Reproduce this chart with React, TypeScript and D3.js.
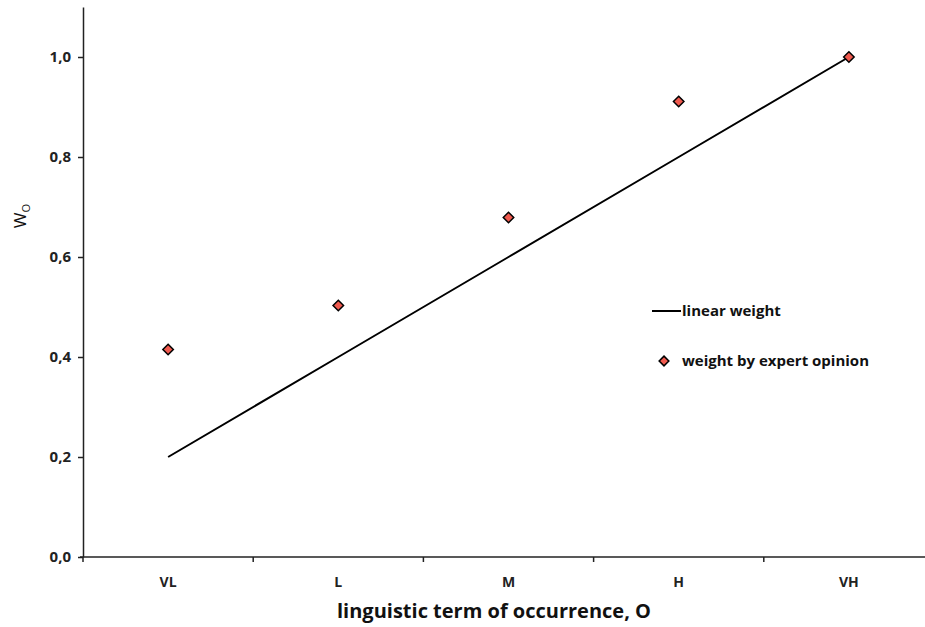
import { useEffect, useRef } from 'react';
import * as d3 from 'd3';

const categories = ['VL', 'L', 'M', 'H', 'VH'];
const linearWeight = [0.2, 0.4, 0.6, 0.8, 1.0];
const expertWeight = [0.415, 0.503, 0.679, 0.911, 1.0];
const yTicks = [0, 0.2, 0.4, 0.6, 0.8, 1.0];

const FONT = '"Open Sans", "DejaVu Sans", sans-serif';

export default function App() {
    const svgRef = useRef<SVGSVGElement>(null);

    useEffect(() => {
        if (!svgRef.current) return;
        document.body.style.margin = '0';
        const svg = d3.select(svgRef.current);
        svg.selectAll('*').remove();

        const width = 925;
        const height = 627;
        const left = 83;
        const bottom = 557;

        svg.attr('width', width).attr('height', height);
        svg.append('rect').attr('width', width).attr('height', height).attr('fill', '#fff');

        // Scales
        const x = d3.scaleBand<string>().domain(categories).range([left, left + 170.2 * 5]);
        const y = d3.scaleLinear().domain([0, 1.1]).range([bottom, 7]);
        const cx = (c: string) => (x(c) || 0) + x.bandwidth() / 2;

        // Y axis
        const yAxis = svg.append('g')
            .attr('transform', `translate(${left},0)`)
            .call(d3.axisLeft(y).tickValues(yTicks).tickSize(5).tickSizeOuter(0)
                .tickFormat(d => d3.format('.1f')(d as number).replace('.', ',')));
        yAxis.select('.domain').attr('stroke', '#222').attr('stroke-width', 1.5);
        yAxis.selectAll('line').attr('stroke', '#222').attr('stroke-width', 1.5);
        yAxis.selectAll('text')
            .attr('x', -12)
            .style('font-family', FONT)
            .style('font-size', '15px')
            .style('font-weight', '700')
            .style('fill', '#222');

        // X axis, ticks between categories
        const xAxis = svg.append('g').attr('transform', `translate(0,${bottom})`);
        xAxis.append('line')
            .attr('x1', left - 3).attr('x2', width)
            .attr('stroke', '#222').attr('stroke-width', 1.5);
        const boundaries = categories.map(c => x(c) || 0);
        xAxis.selectAll('.xtick')
            .data(boundaries)
            .enter()
            .append('line')
            .attr('x1', d => d).attr('x2', d => d)
            .attr('y1', 0).attr('y2', 5)
            .attr('stroke', '#222').attr('stroke-width', 1.5);
        xAxis.selectAll('.xlabel')
            .data(categories)
            .enter()
            .append('text')
            .attr('x', d => cx(d))
            .attr('y', 30)
            .attr('text-anchor', 'middle')
            .style('font-family', FONT)
            .style('font-size', '14px')
            .style('font-weight', '700')
            .style('fill', '#222')
            .text(d => d);

        // Axis titles
        svg.append('text')
            .attr('x', 494)
            .attr('y', 618)
            .attr('text-anchor', 'middle')
            .style('font-family', FONT)
            .style('font-size', '20px')
            .style('font-weight', '700')
            .style('fill', '#111')
            .text('linguistic term of occurrence, O');

        const yTitle = svg.append('text')
            .attr('transform', 'translate(26,216) rotate(-90)')
            .attr('text-anchor', 'middle')
            .style('font-family', FONT)
            .style('font-size', '17px')
            .style('fill', '#111');
        yTitle.append('tspan').text('W');
        yTitle.append('tspan').attr('dy', 4).style('font-size', '11px').text('O');

        // Linear weight line
        const line = d3.line<number>()
            .x((_, i) => cx(categories[i]))
            .y(d => y(d));
        svg.append('path')
            .datum(linearWeight)
            .attr('fill', 'none')
            .attr('stroke', '#000')
            .attr('stroke-width', 2)
            .attr('d', line);

        // Expert opinion markers
        const diamond = d3.symbol().type(d3.symbolDiamond2).size(70);
        svg.selectAll('.dot')
            .data(expertWeight)
            .enter()
            .append('path')
            .attr('d', diamond)
            .attr('transform', (d, i) => `translate(${cx(categories[i])},${y(d)})`)
            .attr('fill', '#f05a4f')
            .attr('stroke', '#000')
            .attr('stroke-width', 1.5);

        // Legend
        const legend = svg.append('g');
        legend.append('line')
            .attr('x1', 652).attr('x2', 681)
            .attr('y1', 311).attr('y2', 311)
            .attr('stroke', '#000').attr('stroke-width', 2);
        legend.append('text')
            .attr('x', 682).attr('y', 316)
            .style('font-family', FONT)
            .style('font-size', '15px')
            .style('font-weight', '700')
            .style('fill', '#111')
            .text('linear weight');
        legend.append('path')
            .attr('d', d3.symbol().type(d3.symbolDiamond2).size(60)())
            .attr('transform', 'translate(664,361)')
            .attr('fill', '#f05a4f')
            .attr('stroke', '#000')
            .attr('stroke-width', 1.5);
        legend.append('text')
            .attr('x', 682).attr('y', 366)
            .style('font-family', FONT)
            .style('font-size', '15px')
            .style('font-weight', '700')
            .style('fill', '#111')
            .text('weight by expert opinion');
    }, []);

    return (
        <div style={{ width: 925, height: 627, overflow: 'hidden' }}>
            <svg ref={svgRef} style={{ display: 'block' }} />
        </div>
    );
}
